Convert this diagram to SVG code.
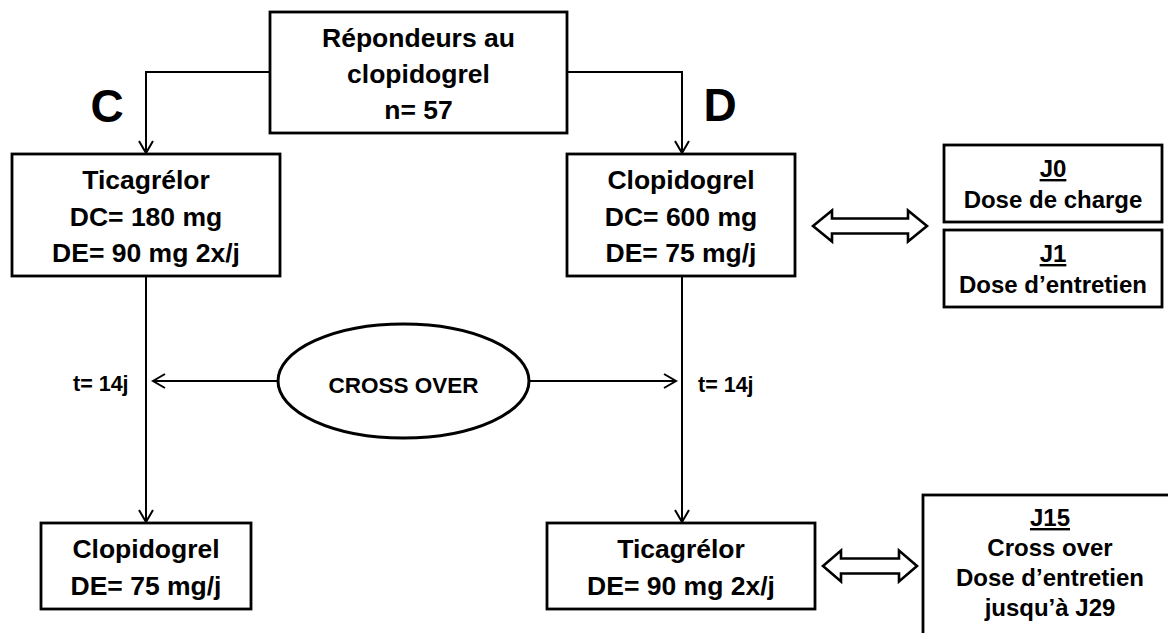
<svg xmlns="http://www.w3.org/2000/svg" width="1168" height="633" viewBox="0 0 1168 633">
<style>
  .box{fill:#fff;stroke:#000;stroke-width:2.8}
  .t{font-family:"Liberation Sans",Arial,sans-serif;font-weight:bold;fill:#000;text-anchor:middle}
  .m{font-size:26.5px}
  .j{font-size:24px}
  .s{font-size:21.5px;text-anchor:start}
  .big{font-size:46px}
  .ln{fill:none;stroke:#000;stroke-width:2}
  .dbl{fill:#fff;stroke:#000;stroke-width:2.6;stroke-linejoin:miter}
  .u{text-decoration:underline}
</style>
<defs>
  <marker id="ah" viewBox="-14 -9 16 18" refX="0" refY="0" markerWidth="16" markerHeight="18" markerUnits="userSpaceOnUse" orient="auto">
    <path d="M-12,-7 L0,0 L-12,7" fill="none" stroke="#000" stroke-width="2"/>
  </marker>
</defs>
<rect width="1168" height="633" fill="#fff"/>

<g id="connectors">
  <path class="ln" d="M270,72 H146 V153" marker-end="url(#ah)"/>
  <path class="ln" d="M567,72 H682 V153" marker-end="url(#ah)"/>
  <path class="ln" d="M146,276 V522" marker-end="url(#ah)"/>
  <path class="ln" d="M682,276 V522" marker-end="url(#ah)"/>
  <path class="ln" d="M278,381 H153" marker-end="url(#ah)"/>
  <path class="ln" d="M529,381 H676" marker-end="url(#ah)"/>
  <polygon class="dbl" points="813,226 832,210.5 832,218.5 908,218.5 908,210.5 927,226 908,241.5 908,233.5 832,233.5 832,241.5"/>
  <polygon class="dbl" points="823,566 841,550.5 841,558.5 899,558.5 899,550.5 917,566 899,581.5 899,573.5 841,573.5 841,581.5"/>
</g>

<g id="label-C"><text class="t big" x="107" y="122">C</text></g>
<g id="label-D"><text class="t big" x="720" y="121">D</text></g>

<g id="node-repondeurs">
  <rect class="box" x="270" y="12" width="297" height="121"/>
  <text class="t m" x="418.5" y="47">Répondeurs au</text>
  <text class="t m" x="418.5" y="83">clopidogrel</text>
  <text class="t m" x="418.5" y="119">n= 57</text>
</g>

<g id="node-ticagrelor-1">
  <rect class="box" x="12" y="154" width="268" height="122"/>
  <text class="t m" x="146" y="189">Ticagrélor</text>
  <text class="t m" x="146" y="226">DC= 180 mg</text>
  <text class="t m" x="146" y="262">DE= 90 mg 2x/j</text>
</g>

<g id="node-clopidogrel-1">
  <rect class="box" x="567" y="154" width="228" height="122"/>
  <text class="t m" x="681" y="189">Clopidogrel</text>
  <text class="t m" x="681" y="226">DC= 600 mg</text>
  <text class="t m" x="681" y="262">DE= 75 mg/j</text>
</g>

<g id="node-j0">
  <rect class="box" x="944" y="145" width="218" height="77"/>
  <text class="t j" x="1053" y="177"><tspan class="u">J0</tspan></text>
  <text class="t j" x="1053" y="208">Dose de charge</text>
</g>

<g id="node-j1">
  <rect class="box" x="944" y="230" width="218" height="77"/>
  <text class="t j" x="1053" y="262"><tspan class="u">J1</tspan></text>
  <text class="t j" x="1053" y="293">Dose d’entretien</text>
</g>

<g id="node-crossover">
  <ellipse cx="403.5" cy="381" rx="125.5" ry="57" fill="#fff" stroke="#000" stroke-width="3"/>
  <text class="t" style="font-size:22.5px" x="403.5" y="393">CROSS OVER</text>
</g>

<g id="label-t-left"><text class="t s" x="73" y="391">t= 14j</text></g>
<g id="label-t-right"><text class="t s" x="698" y="392">t= 14j</text></g>

<g id="node-clopidogrel-2">
  <rect class="box" x="41" y="523" width="210" height="86"/>
  <text class="t m" x="146" y="558">Clopidogrel</text>
  <text class="t m" x="146" y="595">DE= 75 mg/j</text>
</g>

<g id="node-ticagrelor-2">
  <rect class="box" x="547" y="523" width="268" height="86"/>
  <text class="t m" x="681" y="558">Ticagrélor</text>
  <text class="t m" x="681" y="595">DE= 90 mg 2x/j</text>
</g>

<g id="node-j15">
  <rect class="box" x="923" y="495" width="256" height="160"/>
  <text class="t j" x="1050" y="526"><tspan class="u">J15</tspan></text>
  <text class="t j" x="1050" y="556">Cross over</text>
  <text class="t j" x="1050" y="586">Dose d’entretien</text>
  <text class="t j" x="1050" y="616">jusqu’à J29</text>
</g>
</svg>
